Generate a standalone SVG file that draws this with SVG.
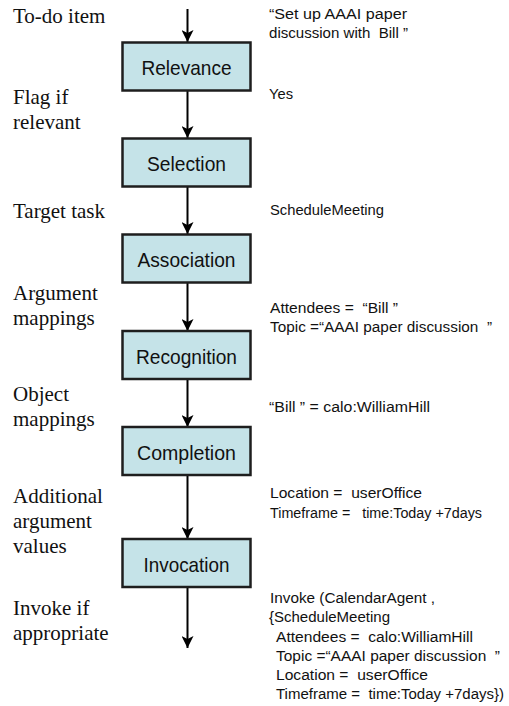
<svg xmlns="http://www.w3.org/2000/svg" width="509" height="706" viewBox="0 0 509 706">
  <style>
    .bg { fill: #ffffff; }
    .box rect { fill: #c5e3e8; stroke: #1e1e1e; stroke-width: 2.5; }
    .box text { font-family: "Liberation Sans", Arial, sans-serif; font-size: 21px; fill: #111; text-anchor: middle; }
    .stage { font-family: "Liberation Serif", "Times New Roman", serif; font-size: 21px; fill: #111; }
    .val { font-family: "Liberation Sans", Arial, sans-serif; font-size: 14px; fill: #111; }
    .conn line { stroke: #000; stroke-width: 2; }
  </style>
  <defs>
    <marker id="head" viewBox="0 0 12 12" refX="12" refY="6" markerWidth="12" markerHeight="12" markerUnits="userSpaceOnUse" orient="auto">
      <path d="M0,0 L12,6 L0,12 L3,6 Z" fill="#000"/>
    </marker>
  </defs>
  <rect class="bg" x="0" y="0" width="509" height="706"/>

  <!-- connectors between pipeline stages -->
  <g id="connectors" class="conn">
    <line x1="187.5" y1="9" x2="187.5" y2="42" marker-end="url(#head)"/>
    <line x1="187.5" y1="91" x2="187.5" y2="138" marker-end="url(#head)"/>
    <line x1="187.5" y1="187" x2="187.5" y2="234" marker-end="url(#head)"/>
    <line x1="187.5" y1="283" x2="187.5" y2="331" marker-end="url(#head)"/>
    <line x1="187.5" y1="379" x2="187.5" y2="427" marker-end="url(#head)"/>
    <line x1="187.5" y1="475" x2="187.5" y2="539" marker-end="url(#head)"/>
    <line x1="187.5" y1="587" x2="187.5" y2="648" marker-end="url(#head)"/>
  </g>

  <!-- pipeline stages -->
  <g id="relevance" class="box">
    <rect x="122.5" y="42.5" width="128" height="48"/>
    <text x="186.5" y="75" textLength="90" lengthAdjust="spacingAndGlyphs">Relevance</text>
  </g>
  <g id="selection" class="box">
    <rect x="122.5" y="138.5" width="128" height="48"/>
    <text x="186.5" y="171" textLength="79" lengthAdjust="spacingAndGlyphs">Selection</text>
  </g>
  <g id="association" class="box">
    <rect x="122.5" y="234.5" width="128" height="48"/>
    <text x="186.5" y="267" textLength="98" lengthAdjust="spacingAndGlyphs">Association</text>
  </g>
  <g id="recognition" class="box">
    <rect x="122.5" y="331" width="128" height="48"/>
    <text x="186.5" y="363.5" textLength="101" lengthAdjust="spacingAndGlyphs">Recognition</text>
  </g>
  <g id="completion" class="box">
    <rect x="122.5" y="427" width="128" height="48"/>
    <text x="186.5" y="459.5" textLength="99" lengthAdjust="spacingAndGlyphs">Completion</text>
  </g>
  <g id="invocation" class="box">
    <rect x="122.5" y="539" width="128" height="48"/>
    <text x="186.5" y="571.5" textLength="86" lengthAdjust="spacingAndGlyphs">Invocation</text>
  </g>

  <!-- what flows along each connector -->
  <g id="stage-labels" class="stage">
    <text x="13" y="23">To-do item</text>
    <text x="13" y="104">Flag if</text>
    <text x="13" y="129">relevant</text>
    <text x="13" y="218">Target task</text>
    <text x="13" y="300">Argument</text>
    <text x="13" y="325">mappings</text>
    <text x="13" y="401">Object</text>
    <text x="13" y="426">mappings</text>
    <text x="13" y="503">Additional</text>
    <text x="13" y="528">argument</text>
    <text x="13" y="553">values</text>
    <text x="13" y="615">Invoke if</text>
    <text x="13" y="640">appropriate</text>
  </g>

  <!-- example values for each step -->
  <g id="example-values" class="val">
    <text x="269" y="19" textLength="138" lengthAdjust="spacingAndGlyphs">“Set up AAAI paper</text>
    <text x="269" y="38" textLength="139" lengthAdjust="spacingAndGlyphs">discussion with &#160;Bill ”</text>
    <text x="269" y="99" textLength="24" lengthAdjust="spacingAndGlyphs">Yes</text>
    <text x="270" y="215" textLength="114" lengthAdjust="spacingAndGlyphs">ScheduleMeeting</text>
    <text x="270" y="313" textLength="128" lengthAdjust="spacingAndGlyphs">Attendees = &#160;“Bill ”</text>
    <text x="270" y="332" textLength="222" lengthAdjust="spacingAndGlyphs">Topic =“AAAI paper discussion &#160;”</text>
    <text x="269" y="412" textLength="161" lengthAdjust="spacingAndGlyphs">“Bill ” = calo:WilliamHill</text>
    <text x="270" y="498" textLength="152" lengthAdjust="spacingAndGlyphs">Location = &#160;userOffice</text>
    <text x="270" y="518" textLength="212" lengthAdjust="spacingAndGlyphs">Timeframe = &#160;&#160;time:Today +7days</text>
    <text x="270" y="602.5" textLength="165" lengthAdjust="spacingAndGlyphs">Invoke (CalendarAgent ,</text>
    <text x="269" y="622" textLength="121" lengthAdjust="spacingAndGlyphs">{ScheduleMeeting</text>
    <text x="276" y="641.5" textLength="197" lengthAdjust="spacingAndGlyphs">Attendees = &#160;calo:WilliamHill</text>
    <text x="276" y="661" textLength="224" lengthAdjust="spacingAndGlyphs">Topic =“AAAI paper discussion &#160;”</text>
    <text x="276" y="680" textLength="152" lengthAdjust="spacingAndGlyphs">Location = &#160;userOffice</text>
    <text x="276" y="699" textLength="228" lengthAdjust="spacingAndGlyphs">Timeframe = &#160;time:Today +7days})</text>
  </g>
</svg>
